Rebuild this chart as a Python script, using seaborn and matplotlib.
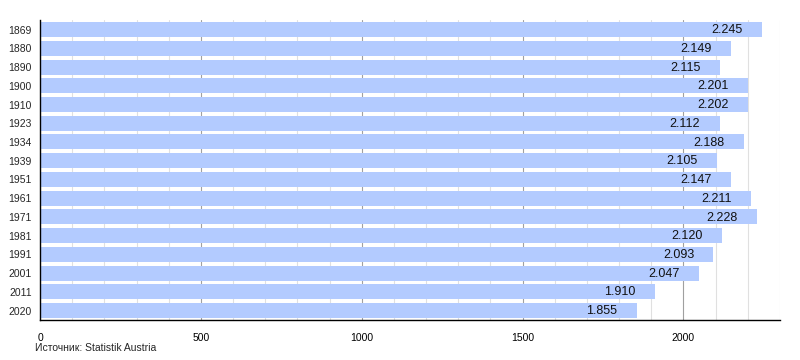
import matplotlib
matplotlib.use("Agg")
import matplotlib.pyplot as plt
import seaborn as sns
import pandas as pd
from matplotlib.ticker import MultipleLocator

years = ["1869", "1880", "1890", "1900", "1910", "1923", "1934", "1939",
         "1951", "1961", "1971", "1981", "1991", "2001", "2011", "2020"]
population = [2245, 2149, 2115, 2201, 2202, 2112, 2188, 2105,
              2147, 2211, 2228, 2120, 2093, 2047, 1910, 1855]
labels = ["2.245", "2.149", "2.115", "2.201", "2.202", "2.112", "2.188", "2.105",
          "2.147", "2.211", "2.228", "2.120", "2.093", "2.047", "1.910", "1.855"]

df = pd.DataFrame({"year": years, "pop": population})

sns.set_style("white")
plt.rcParams['font.family'] = ['Liberation Sans', 'DejaVu Sans']

fig = plt.figure(figsize=(8, 3.6), dpi=100)
ax = fig.add_axes([0.05, 0.111, 0.925, 0.833])

ax.set_axisbelow(True)
ax.xaxis.set_major_locator(MultipleLocator(500))
ax.xaxis.set_minor_locator(MultipleLocator(100))
ax.grid(which="minor", axis="x", color="#e0e0e0", linewidth=0.8)
ax.grid(which="major", axis="x", color="#a0a0a0", linewidth=0.8)

sns.barplot(data=df, x="pop", y="year", orient="h", color="#b3cbff",
            saturation=1, width=0.8, linewidth=0, edgecolor="none", ax=ax)

for i, (v, lab) in enumerate(zip(population, labels)):
    ax.text(v - 60, i + 0.03, lab, ha="right", va="center", fontsize=9, color="#111111")

ax.set_xlim(0, 2300)
ax.set_ylim(15.5, -0.5)
ax.set_xlabel("")
ax.set_ylabel("")

for s in ["top", "right"]:
    ax.spines[s].set_visible(False)
ax.spines["left"].set_color("black")
ax.spines["bottom"].set_color("black")
ax.spines["left"].set_linewidth(1)
ax.spines["bottom"].set_linewidth(1)

ax.tick_params(axis="x", which="major", direction="out", length=4, width=0.8,
               labelsize=7.5, pad=5, colors="black")
ax.tick_params(axis="x", which="minor", direction="out", length=4, width=0.8,
               colors="black")
ax.tick_params(axis="y", length=0, labelsize=7.5, pad=6)

fig.text(0.044, 0.033, "Источник: Statistik Austria", fontsize=7.5, ha="left", va="center")

fig.savefig("out.png", dpi=100)
